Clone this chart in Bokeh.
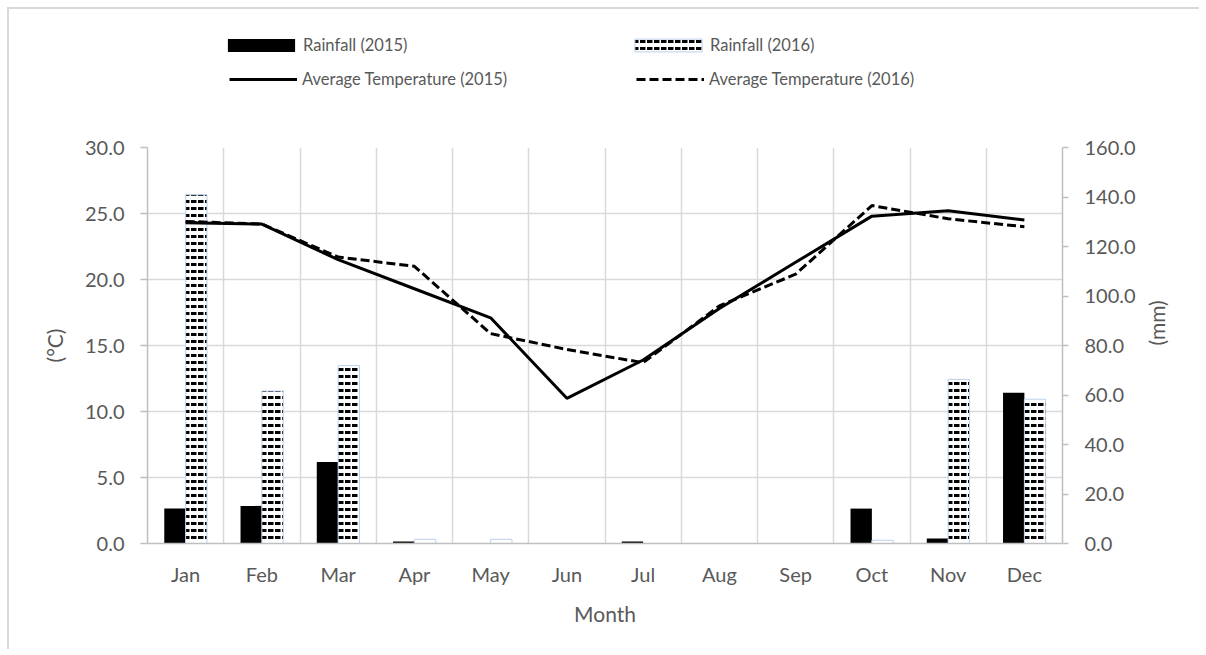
import math

from bokeh.plotting import figure
from bokeh.layouts import column
from bokeh.models import (ColumnDataSource, FactorRange, Range1d, LinearAxis,
                          FixedTicker, PrintfTickFormatter, Legend, LegendItem)
from bokeh.transform import dodge
from bokeh.embed import file_html
from bokeh.resources import INLINE

# Monthly climate data
months = ["Jan", "Feb", "Mar", "Apr", "May", "Jun",
          "Jul", "Aug", "Sep", "Oct", "Nov", "Dec"]
rain_2015 = [14.1, 15.2, 32.9, 0.8, 0.0, 0.0, 0.8, 0.0, 0.0, 14.1, 2.0, 60.9]
rain_2016 = [140.9, 61.6, 71.9, 1.7, 1.7, 0.0, 0.0, 0.0, 0.0, 1.3, 66.3, 58.3]
temp_2015 = [24.3, 24.2, 21.5, 19.3, 17.1, 11.0, 13.9, 17.8, 21.3, 24.8, 25.2, 24.5]
temp_2016 = [24.4, 24.2, 21.7, 21.0, 15.9, 14.7, 13.7, 18.0, 20.4, 25.6, 24.6, 24.0]

temp_ticks = [0, 5, 10, 15, 20, 25, 30]
rain_ticks = [0, 20, 40, 60, 80, 100, 120, 140, 160]

FONT = "Lato"
TEXT = "#595959"
AXIS = "#bfbfbf"
GRID = "#d9d9d9"

# Series styles, shared by the chart and its key
BAR15 = dict(fill_color="black", line_color=None)
BAR16 = dict(fill_color="white", line_color="#bcd0ea", line_width=1,
             hatch_pattern="horizontal_dash", hatch_color="black",
             hatch_scale=7, hatch_weight=3)
LINE15 = dict(line_color="black", line_width=3)
LINE16 = dict(line_color="black", line_width=3, line_dash="9 4")

src = ColumnDataSource(dict(month=months, r15=rain_2015, r16=rain_2016,
                            t15=temp_2015, t16=temp_2016))


def draw_series(fig, y_range_name):
    """Draw the four series on a figure; returns their renderers."""
    b15 = fig.vbar(x=dodge("month", -0.14, range=fig.x_range), top="r15", width=0.28,
                   source=src, y_range_name=y_range_name, **BAR15)
    b16 = fig.vbar(x=dodge("month", 0.14, range=fig.x_range), top="r16", width=0.28,
                   source=src, y_range_name=y_range_name, **BAR16)
    l15 = fig.line("month", "t15", source=src, **LINE15)
    l16 = fig.line("month", "t16", source=src, **LINE16)
    return b15, b16, l15, l16


# ---- main chart -------------------------------------------------------
months_range = FactorRange(*months, range_padding=0)
p = figure(x_range=months_range,
           y_range=Range1d(0, 30),
           width=1190, height=522,
           output_backend="svg", toolbar_location=None,
           min_border_left=138, min_border_right=137,
           min_border_top=20, min_border_bottom=106)
p.extra_y_ranges = {"mm": Range1d(0, 160)}
p.outline_line_color = None
p.background_fill_color = "white"
p.border_fill_color = "white"

# Rainfall bars on the right axis, temperature lines on the left axis
draw_series(p, "mm")

# Grid: vertical lines between months, horizontal lines on the °C ticks
p.xgrid.ticker = FixedTicker(ticks=list(range(len(months) + 1)))
p.xgrid.grid_line_color = GRID
p.xgrid.grid_line_width = 1.5
p.ygrid.ticker = FixedTicker(ticks=temp_ticks)
p.ygrid.grid_line_color = GRID
p.ygrid.grid_line_width = 1.5

# Left axis
ya = p.yaxis[0]
ya.ticker = FixedTicker(ticks=temp_ticks)
ya.formatter = PrintfTickFormatter(format="%.1f")
ya.axis_label = "(°C)"
ya.major_tick_out = 7
ya.major_label_standoff = 16
ya.axis_label_standoff = 15

# Right axis
ra = LinearAxis(y_range_name="mm", ticker=FixedTicker(ticks=rain_ticks),
                formatter=PrintfTickFormatter(format="%.1f"), axis_label="(mm)")
ra.major_tick_out = 6
ra.major_label_standoff = 16
ra.axis_label_standoff = 18
try:
    ra.axis_label_orientation = math.pi / 2
except Exception:
    pass
p.add_layout(ra, "right")

# Bottom axis
xa = p.xaxis[0]
xa.axis_label = "Month"
xa.major_tick_line_color = None
xa.major_tick_out = 0
xa.major_label_standoff = 18
xa.axis_label_standoff = 12

for ax in (ya, ra):
    ax.major_tick_line_color = AXIS
    ax.major_tick_line_width = 1.5
    ax.major_tick_in = 0

for ax in (xa, ya, ra):
    ax.axis_line_color = AXIS
    ax.axis_line_width = 1.5
    ax.minor_tick_line_color = None
    ax.major_label_text_font = FONT
    ax.major_label_text_font_size = "20px"
    ax.major_label_text_color = TEXT
    ax.axis_label_text_font = FONT
    ax.axis_label_text_font_size = "21px"
    ax.axis_label_text_color = TEXT
    ax.axis_label_text_font_style = "normal"

# ---- key strip above the chart ---------------------------------------
# The series are drawn again here far outside the visible y range, so only
# their legend swatches show.
k = figure(x_range=months_range, y_range=Range1d(1000, 1001),
           width=1190, height=118, output_backend="svg", toolbar_location=None,
           x_axis_type=None, y_axis_type=None,
           min_border_left=0, min_border_right=0,
           min_border_top=0, min_border_bottom=0)
k.extra_y_ranges = {"mm": Range1d(1000, 1001)}
k.grid.visible = False
k.outline_line_color = None
k.background_fill_color = "white"
k.border_fill_color = "white"

kb15, kb16, kl15, kl16 = draw_series(k, "mm")


def make_key(label, renderer, loc, glyph_width, glyph_height, standoff):
    return Legend(items=[LegendItem(label=label, renderers=[renderer])],
                  location=loc, orientation="vertical",
                  glyph_width=glyph_width, glyph_height=glyph_height,
                  label_standoff=standoff, label_height=20,
                  padding=0, margin=0,
                  border_line_color=None, background_fill_alpha=0,
                  label_text_font=FONT, label_text_font_size="16.5px",
                  label_text_color=TEXT)


# bar swatches are drawn at 80% of their glyph box, so give them a wider box
k.add_layout(make_key("Rainfall (2015)", kb15, (72, 72), 84, 16, 0))
k.add_layout(make_key("Average Temperature (2015)", kl15, (82, 38), 68, 12, 5))
k.add_layout(make_key("Rainfall (2016)", kb16, (479, 72), 84, 16, 0))
k.add_layout(make_key("Average Temperature (2016)", kl16, (489, 38), 68, 12, 5))

page = column(k, p, spacing=0)
page.margin = (7, 0, 0, 7)
page.styles = {"border-left": "2px solid #d9d9d9", "border-top": "2px solid #d9d9d9"}

open("out.html", "w").write(file_html(page, INLINE))
